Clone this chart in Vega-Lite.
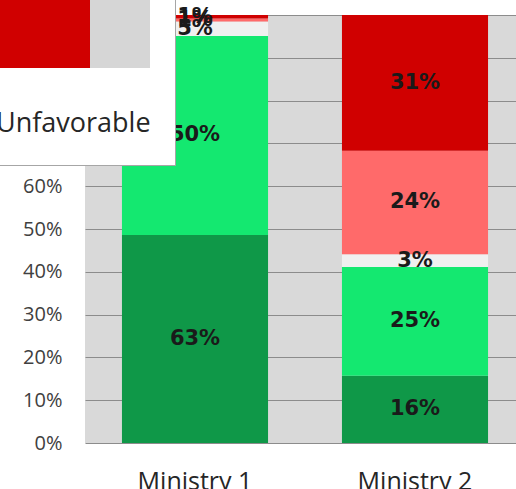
{
  "$schema": "https://vega.github.io/schema/vega-lite/v6.json",
  "autosize": {"type": "none"},
  "width": 431,
  "height": 428,
  "padding": {"left": 85, "top": 15, "right": 0, "bottom": 46},
  "background": "white",
  "data": {
    "values": [
      {"ministry": "Ministry 1", "rating": "Very Favorable", "k": 1, "pct": 48.6, "label": "63%"},
      {"ministry": "Ministry 1", "rating": "Favorable", "k": 2, "pct": 46.5, "label": "50%"},
      {"ministry": "Ministry 1", "rating": "Neutral", "k": 3, "pct": 3.4, "label": "5%"},
      {"ministry": "Ministry 1", "rating": "Somewhat Unfavorable", "k": 4, "pct": 0.7, "label": "1%"},
      {"ministry": "Ministry 1", "rating": "Unfavorable", "k": 5, "pct": 0.8, "label": "1%"},
      {"ministry": "Ministry 2", "rating": "Very Favorable", "k": 1, "pct": 15.7, "label": "16%"},
      {"ministry": "Ministry 2", "rating": "Favorable", "k": 2, "pct": 25.4, "label": "25%"},
      {"ministry": "Ministry 2", "rating": "Neutral", "k": 3, "pct": 3.0, "label": "3%"},
      {"ministry": "Ministry 2", "rating": "Somewhat Unfavorable", "k": 4, "pct": 24.2, "label": "24%"},
      {"ministry": "Ministry 2", "rating": "Unfavorable", "k": 5, "pct": 31.7, "label": "31%"}
    ]
  },
  "encoding": {
    "x": {
      "field": "ministry",
      "type": "nominal",
      "title": null,
      "scale": {"range": [0, 440], "paddingInner": 0.336, "paddingOuter": 0.168},
      "axis": {
        "labelAngle": 0,
        "domain": false,
        "ticks": false,
        "labelPadding": 26,
        "labelFont": "Open Sans",
        "labelFontSize": 25,
        "labelColor": "#262626"
      }
    },
    "y": {
      "field": "pct",
      "type": "quantitative",
      "stack": "zero",
      "title": null,
      "scale": {"domain": [0, 100], "nice": false},
      "axis": {
        "values": [0, 10, 20, 30, 40, 50, 60, 70, 80, 90, 100],
        "labelExpr": "datum.value + '%'",
        "domain": false,
        "ticks": false,
        "labelPadding": 23,
        "labelFont": "Open Sans",
        "labelFontSize": 20,
        "labelColor": "#404040",
        "gridColor": "#8c8c8c",
        "gridWidth": 1.2
      }
    },
    "order": {"field": "k", "type": "quantitative"}
  },
  "layer": [
    {
      "mark": {"type": "bar"},
      "encoding": {
        "color": {
          "field": "rating",
          "type": "nominal",
          "scale": {
            "domain": ["Very Favorable", "Favorable", "Neutral", "Somewhat Unfavorable", "Unfavorable"],
            "range": ["#0f9848", "#14e870", "#f0f0f0", "#ff6a6a", "#d00000"]
          },
          "legend": {
            "values": ["Unfavorable"],
            "title": null,
            "orient": "none",
            "legendX": -108,
            "legendY": -29,
            "padding": 7,
            "fillColor": "white",
            "strokeColor": "#a6a6a6",
            "symbolType": "M-1.16,-1.232H-0.2V-0.448H-1.16ZM-0.152,-1.232V-0.448M-0.072,-1.232V-0.448M0.008,-1.232V-0.448M0.088,-1.232V-0.448M0.168,-1.232V-0.448M0.232,-1.232V-0.448M0.232,0.08",
            "symbolSize": 62500,
            "symbolStrokeColor": "#d6d6d6",
            "symbolStrokeWidth": 12,
            "symbolDash": [98, 3000],
            "symbolOpacity": 1,
            "labelOffset": -250,
            "labelFont": "Open Sans",
            "labelFontSize": 27,
            "labelColor": "#262626",
            "labelLimit": 400
          }
        }
      }
    },
    {
      "mark": {"type": "text", "font": "DejaVu Sans", "fontWeight": "bold", "fontSize": 21, "color": "#1a1a1a", "baseline": "middle"},
      "encoding": {
        "y": {"field": "pct", "type": "quantitative", "stack": "zero", "bandPosition": 0.5},
        "text": {"field": "label", "type": "nominal"}
      }
    }
  ],
  "config": {
    "view": {"fill": "#d9d9d9", "stroke": null}
  }
}
